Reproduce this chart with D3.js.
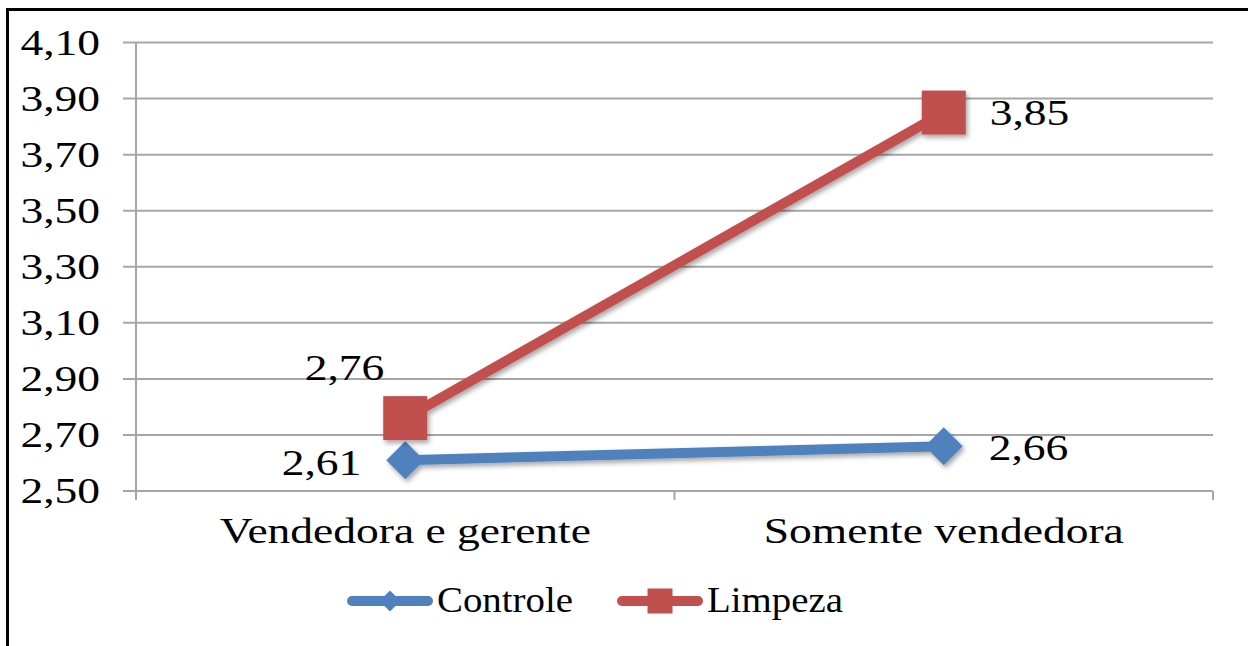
<!DOCTYPE html>
<html>
<head>
<meta charset="utf-8">
<script src="https://cdnjs.cloudflare.com/ajax/libs/d3/7.8.5/d3.min.js"></script>
<style>
  body { margin: 0; background: #fff; }
</style>
</head>
<body>
<div id="chart"></div>
<script>
var categories = ["Vendedora e gerente", "Somente vendedora"];
var seriesNames = ["Controle", "Limpeza"];
var controle = [2.61, 2.66];
var limpeza = [2.76, 3.85];
var yTicks = [2.50, 2.70, 2.90, 3.10, 3.30, 3.50, 3.70, 3.90, 4.10];
var colors = ["#4F81BD", "#C0504D"];

var FONT = "'Liberation Serif', 'Times New Roman', Times, serif";
var W = 1248, H = 646;
var margin = { top: 42.5, left: 136, right: 35, bottom: 155 };
var width = W - margin.left - margin.right,
    height = H - margin.top - margin.bottom;

var svg = d3.select("#chart").append("svg")
    .attr("width", W).attr("height", H);

// drop shadow like the office chart
var defs = svg.append("defs");
var f = defs.append("filter").attr("id", "shadow")
    .attr("x", "-30%").attr("y", "-30%").attr("width", "160%").attr("height", "160%");
f.append("feDropShadow").attr("dx", 2).attr("dy", 3)
    .attr("stdDeviation", 2.5).attr("flood-color", "#000").attr("flood-opacity", 0.35);

// outer frame (left + top only visible)
svg.append("path")
    .attr("d", "M7.5," + H + "V9.5H" + W)
    .attr("fill", "none").attr("stroke", "#000").attr("stroke-width", 3);

var g = svg.append("g")
    .attr("transform", "translate(" + margin.left + "," + margin.top + ")");

var x = d3.scaleBand().domain(categories).range([0, width]);
var y = d3.scaleLinear().domain([2.5, 4.1]).range([height, 0]);

// gridlines
g.selectAll(".grid").data(yTicks).enter().append("line")
    .attr("x1", -13).attr("x2", width)
    .attr("y1", function(d) { return y(d); })
    .attr("y2", function(d) { return y(d); })
    .attr("stroke", "#a6a6a6").attr("stroke-width", 2);

// y axis line
g.append("line").attr("x1", 0).attr("x2", 0).attr("y1", 0).attr("y2", height + 9)
    .attr("stroke", "#a6a6a6").attr("stroke-width", 2);

// x tick marks at category boundaries
var bounds = [0].concat(categories.map(function(c) { return x(c) + x.bandwidth(); }));
g.selectAll(".xtick").data(bounds).enter().append("line")
    .attr("x1", function(d) { return d; }).attr("x2", function(d) { return d; })
    .attr("y1", height).attr("y2", height + 9)
    .attr("stroke", "#a6a6a6").attr("stroke-width", 2);

// text helper: office render is stretched wide, so scale x
function txt(sel, tx, ty, anchor, s, sx) {
  return sel.append("text")
    .attr("transform", "translate(" + tx + "," + ty + ") scale(" + (sx || 1.3) + ",1)")
    .attr("text-anchor", anchor)
    .style("font-family", FONT)
    .style("font-size", "35px")
    .attr("fill", "#000")
    .text(s);
}

// y tick labels
yTicks.forEach(function(d) {
  txt(g, -36, y(d) + 12, "end", d.toFixed(2).replace(".", ","));
});

// category labels
categories.forEach(function(d) {
  txt(g, x(d) + x.bandwidth() / 2, height + 52, "middle", d);
});

var series = [
  { name: seriesNames[0], values: controle, color: colors[0], shape: "diamond" },
  { name: seriesNames[1], values: limpeza, color: colors[1], shape: "square" }
];

var line = d3.line()
    .x(function(d, i) { return x(categories[i]) + x.bandwidth() / 2; })
    .y(function(d) { return y(d); });

function marker(sel, shape, cx, cy, s, color) {
  if (shape === "square") {
    sel.append("rect").attr("x", cx - s / 2).attr("y", cy - s / 2)
      .attr("width", s).attr("height", s).attr("fill", color);
  } else {
    var r = s / 2;
    sel.append("path")
      .attr("d", "M" + cx + "," + (cy - r) + "L" + (cx + r) + "," + cy + "L" + cx + "," + (cy + r) + "L" + (cx - r) + "," + cy + "Z")
      .attr("fill", color);
  }
}

series.forEach(function(s) {
  var sg = g.append("g").attr("filter", "url(#shadow)");
  sg.append("path").datum(s.values)
    .attr("d", line).attr("fill", "none")
    .attr("stroke", s.color).attr("stroke-width", 10);
  s.values.forEach(function(v, i) {
    var cx = x(categories[i]) + x.bandwidth() / 2;
    marker(sg, s.shape, cx, y(v), s.shape === "square" ? 44 : 38, s.color);
  });
});

// data labels: first point left side, second point right side
function lab(v, i, dx, dy, anchor) {
  txt(g, x(categories[i]) + x.bandwidth() / 2 + dx, y(v) + dy, anchor,
      v.toFixed(2).replace(".", ","));
}
lab(controle[0], 0, -44, 15, "end");
lab(controle[1], 1, 45, 14, "start");
lab(limpeza[0], 0, -21, -38, "end");
lab(limpeza[1], 1, 46, 12.5, "start");

// legend
var legend = svg.append("g");
var lx = [348, 618];
series.forEach(function(s, i) {
  var lg = legend.append("g").attr("transform", "translate(" + lx[i] + ",601)");
  lg.append("line").attr("x1", 4).attr("x2", 80).attr("y1", 0).attr("y2", 0)
    .attr("stroke", s.color).attr("stroke-width", 10).attr("stroke-linecap", "round");
  marker(lg, s.shape, 42, 0, s.shape === "square" ? 25 : 21, s.color);
  txt(lg, 89, 11, "start", s.name, 1.11);
});
</script>
</body>
</html>
